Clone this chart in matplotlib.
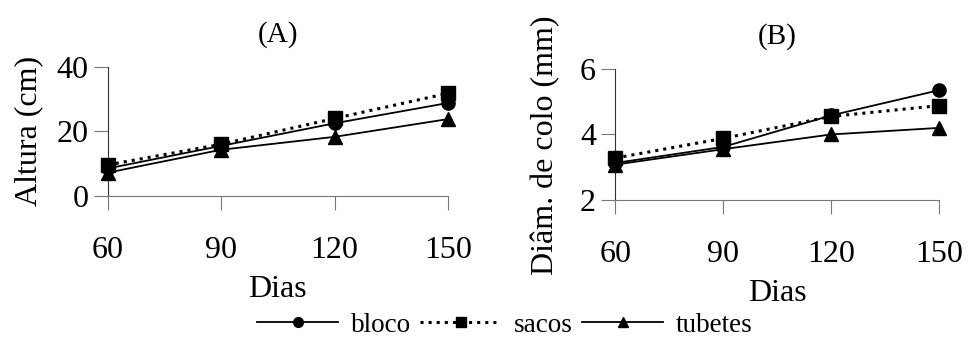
import matplotlib
matplotlib.use('Agg')
import matplotlib.pyplot as plt
from matplotlib.lines import Line2D

plt.rcParams['font.family'] = ['Liberation Serif', 'DejaVu Serif']

dias = [60, 90, 120, 150]

# (A) altura (cm)
altura_bloco = [8.5, 15.5, 22.5, 28.8]
altura_sacos = [9.6, 16.0, 24.0, 31.8]
altura_tubetes = [7.2, 14.3, 18.3, 23.8]

# (B) diametro de colo (mm)
diam_bloco = [3.13, 3.62, 4.58, 5.35]
diam_sacos = [3.28, 3.88, 4.55, 4.88]
diam_tubetes = [3.08, 3.55, 4.0, 4.2]

fig = plt.figure(figsize=(9.8, 3.43), dpi=100)
axA = fig.add_axes([0.110, 0.429, 0.347, 0.376])
axB = fig.add_axes([0.628, 0.417, 0.330, 0.382])

def draw(ax, b, s, t, ylim, yticks, ylabel, title, ylab_xy):
    ax.plot(dias, b, '-', color='black', lw=1.3, marker='o', ms=9.5, zorder=3)
    ax.plot(dias, s, ':', color='black', lw=2.2, marker='s', ms=9.5, zorder=3)
    ax.plot(dias, t, '-', color='black', lw=1.3, marker='^', ms=9.5, zorder=3)
    ax.set_xlim(dias[0], dias[-1])
    ax.set_ylim(*ylim)
    ax.set_yticks(yticks)
    ax.set_xticks(dias)
    for sp in ['top', 'right']:
        ax.spines[sp].set_visible(False)
    ax.spines['left'].set_color('#333333')
    ax.spines['bottom'].set_color('#777777')
    ax.tick_params(axis='x', direction='out', length=10, pad=19, color='#777777', labelsize=23)
    ax.tick_params(axis='y', direction='out', length=10, pad=4, color='#777777', labelsize=23)
    ax.set_ylabel(ylabel, fontsize=23)
    ax.yaxis.set_label_coords(*ylab_xy)
    ax.set_xlabel('Dias', fontsize=23, labelpad=7)
    ax.set_title(title, fontsize=21, pad=18)
    for line in ax.get_lines():
        line.set_clip_on(False)

draw(axA, altura_bloco, altura_sacos, altura_tubetes, (0, 40), [0, 20, 40], 'Altura (cm)', '(A)',
     (-0.19, 0.5))
draw(axB, diam_bloco, diam_sacos, diam_tubetes, (2, 6), [2, 4, 6], 'Diâm. de colo (mm)', '(B)',
     (-0.17, 0.42))

handles = [
    Line2D([], [], color='black', ls='-', lw=1.3, marker='o', ms=7),
    Line2D([], [], color='black', ls=':', lw=2.2, marker='s', ms=7),
    Line2D([], [], color='black', ls='-', lw=1.3, marker='^', ms=7),
]
fig.legend(handles, ['bloco', 'sacos', 'tubetes'], loc='center', bbox_to_anchor=(0.515, 0.052),
           ncol=3, frameon=False, prop={'family': 'Liberation Serif', 'size': 19.5},
           handlelength=3.0, handletextpad=0.45, columnspacing=0.35)

fig.savefig('out.png', dpi=100)
